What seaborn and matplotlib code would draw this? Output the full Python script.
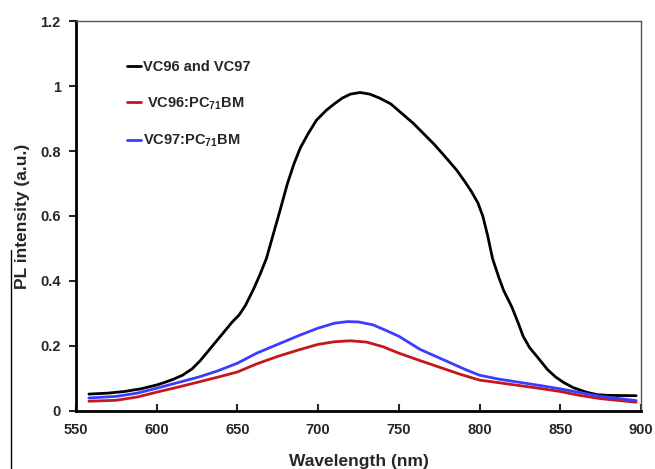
import numpy as np
import pandas as pd
import matplotlib
matplotlib.use("Agg")
import matplotlib.pyplot as plt
import seaborn as sns
from matplotlib.ticker import FormatStrFormatter
from matplotlib.lines import Line2D

# ---- data ----
wl_black = [558, 570, 580, 590, 600, 605, 610, 616, 622, 627, 632, 637, 642, 647, 651, 655,
            660, 664, 668, 672, 676, 681, 685, 689, 694, 699, 705, 710, 715, 720, 726, 732,
            738, 745, 752, 759, 765, 772, 780, 786, 791, 795, 799, 802, 805, 808, 812, 815,
            820, 824, 827, 831, 836, 842, 847, 852, 858, 866, 873, 880, 897]
pl_black = [0.052, 0.055, 0.060, 0.068, 0.080, 0.088, 0.097, 0.110, 0.130, 0.155, 0.185, 0.215,
            0.245, 0.275, 0.295, 0.325, 0.375, 0.420, 0.470, 0.540, 0.610, 0.700, 0.760, 0.810,
            0.855, 0.895, 0.925, 0.945, 0.963, 0.975, 0.980, 0.975, 0.963, 0.945, 0.915, 0.885,
            0.855, 0.820, 0.775, 0.740, 0.705, 0.675, 0.640, 0.600, 0.540, 0.470, 0.410, 0.370,
            0.320, 0.270, 0.230, 0.195, 0.165, 0.128, 0.105, 0.088, 0.072, 0.058, 0.050, 0.048,
            0.047]

wl_red = [558, 575, 588, 600, 612, 625, 637, 650, 662, 675, 688, 700, 710, 720, 730, 740,
          750, 762, 775, 788, 800, 812, 825, 838, 850, 862, 875, 897]
pl_red = [0.030, 0.033, 0.043, 0.058, 0.072, 0.088, 0.103, 0.120, 0.145, 0.168, 0.188, 0.205,
          0.213, 0.216, 0.212, 0.198, 0.178, 0.157, 0.135, 0.113, 0.095, 0.087, 0.078, 0.069,
          0.060, 0.048, 0.038, 0.027]

wl_blue = [558, 575, 588, 600, 612, 625, 637, 650, 662, 675, 688, 700, 710, 718, 725, 734,
           742, 750, 763, 772, 782, 791, 800, 812, 825, 838, 850, 862, 875, 897]
pl_blue = [0.040, 0.045, 0.055, 0.070, 0.086, 0.103, 0.122, 0.147, 0.178, 0.205, 0.232, 0.255,
           0.270, 0.275, 0.274, 0.265, 0.248, 0.230, 0.190, 0.170, 0.148, 0.128, 0.110, 0.098,
           0.088, 0.078, 0.068, 0.057, 0.045, 0.032]

labels = ["VC96 and VC97", " VC96:PC$_{71}$BM", "VC97:PC$_{71}$BM"]
colors = ["#000000", "#c4161c", "#3c3cff"]

df = pd.concat([
    pd.DataFrame({"Wavelength": wl_black, "PL": pl_black, "Sample": labels[0]}),
    pd.DataFrame({"Wavelength": wl_red, "PL": pl_red, "Sample": labels[1]}),
    pd.DataFrame({"Wavelength": wl_blue, "PL": pl_blue, "Sample": labels[2]}),
], ignore_index=True)

sns.set_style("white")
plt.rcParams["font.family"] = ["Liberation Sans", "DejaVu Sans"]
plt.rcParams["font.weight"] = "bold"
plt.rcParams["mathtext.default"] = "regular"

fig = plt.figure(figsize=(6.55, 4.69), dpi=100)
ax = fig.add_axes([0.116, 0.1237, 0.8626, 0.8315])

sns.lineplot(data=df, x="Wavelength", y="PL", hue="Sample",
             palette=dict(zip(labels, colors)), linewidth=2.0, ax=ax, sort=True)

ax.set_xlim(550, 900)
ax.set_ylim(0, 1.2)
ax.set_xticks(np.arange(550, 901, 50))
ax.set_yticks(np.arange(0, 1.21, 0.2))
ax.yaxis.set_major_formatter(FormatStrFormatter("%g"))

for s in ["left", "bottom"]:
    ax.spines[s].set_linewidth(2.0)
    ax.spines[s].set_color("black")
for s in ["top", "right"]:
    ax.spines[s].set_linewidth(1.0)
    ax.spines[s].set_color("#555555")

ax.tick_params(axis="x", direction="in", length=5, width=1.5, labelsize=10.5, pad=9)
ax.tick_params(axis="y", direction="out", length=5, width=1.5, labelsize=10.5, pad=6)
ax.tick_params(bottom=True, left=True)
for t in ax.get_xticklabels() + ax.get_yticklabels():
    t.set_fontweight("bold")

ax.set_xlabel("Wavelength (nm)", fontsize=12.5, fontweight="bold", labelpad=12)
ax.set_ylabel("PL intensity (a.u.)", fontsize=12.5, fontweight="bold", labelpad=7)

leg = ax.legend(loc="upper left", bbox_to_anchor=(0.09, 0.9), frameon=False,
                handlelength=1.0, handletextpad=0.1, labelspacing=1.45, borderpad=0,
                borderaxespad=0, prop={"weight": "bold", "size": 10.5})
for line in leg.get_lines():
    line.set_linewidth(2.0)

# thin vertical border line at the far left of the picture
fig.add_artist(Line2D([11 / 655, 11 / 655], [0, (469 - 250) / 469], transform=fig.transFigure,
                      color="black", linewidth=1.0))

fig.savefig("out.png", dpi=100)
